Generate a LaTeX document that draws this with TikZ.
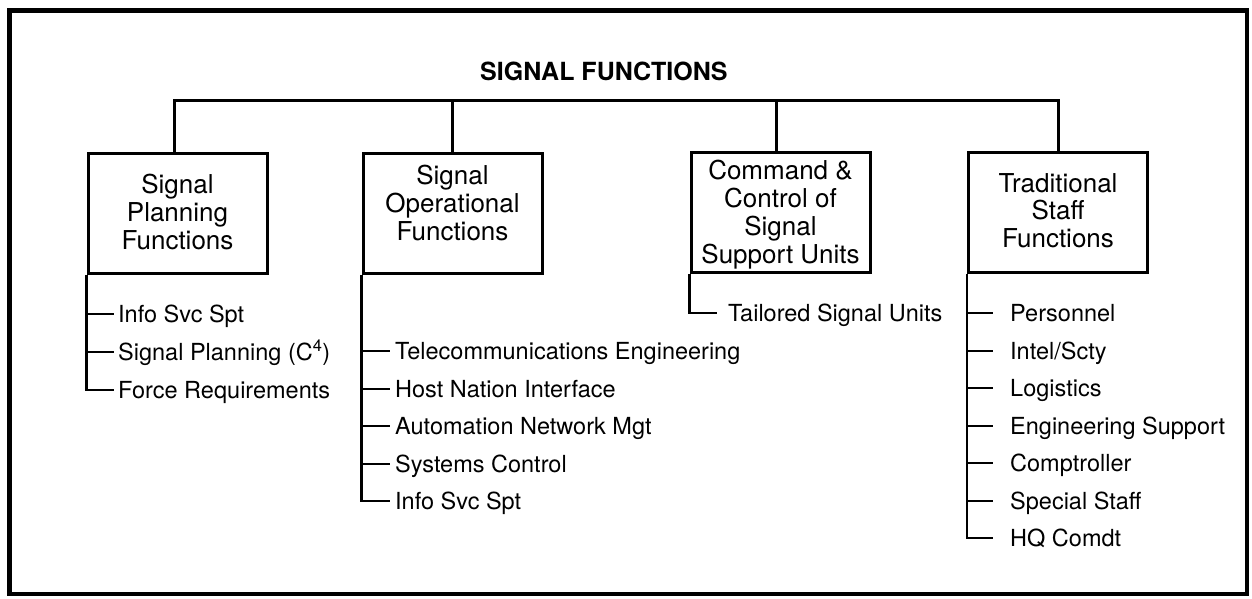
\documentclass[tikz,border=0pt]{standalone}
\usepackage{fontspec}
\setmainfont{TeX Gyre Heros}
\begin{document}
\begin{tikzpicture}[x=1pt,y=-1pt,
  box/.style={draw, line width=3pt, minimum width=179pt, minimum height=120pt, inner sep=0pt},
  btext/.style={font=\fontsize{26}{27.8}\selectfont, align=center, inner sep=0pt, anchor=north},
  item/.style={font=\fontsize{23.5}{28}\selectfont, inner sep=0pt, anchor=base west},
  conn/.style={line width=3pt},
  sub/.style={line width=2.5pt},
  tick/.style={line width=2pt}]
\useasboundingbox (0,0) rectangle (1252,598);
\coordinate (fa) at (9.5,10.5);
\coordinate (fb) at (1247,594);
\draw[line width=4.5pt] (fa) rectangle (fb);
\node[font=\fontsize{25}{30}\selectfont\bfseries, inner sep=0pt, anchor=base west] (title) at (480,80) {SIGNAL FUNCTIONS};
% boxes
\node[box] (b1) at (177.5,213) {};
\node[box] (b2) at (452.5,213) {};
\node[box] (b3) at (780.5,212.5) {};
\node[box] (b4) at (1058,212.5) {};
\node[btext] (t1) at (177.5,174) {Signal\\Planning\\Functions};
\node[btext] (t2) at (452.5,165) {Signal\\Operational\\Functions};
\node[btext] (t3) at (780.5,160) {Command \&\\Control of\\Signal\\Support Units};
\node[btext] (t4) at (1058,173) {Traditional\\Staff\\Functions};
% bus
\coordinate (bus) at (0,100);
\coordinate (s1) at ([xshift=-3.5pt]b1.north);
\coordinate (s3) at ([xshift=-4pt]b3.north);
\draw[conn] (s1) -- (s1 |- bus) -- (b4.north |- bus) -- (b4.north);
\draw[conn] (b2.north) -- (b2.north |- bus);
\draw[conn] (s3) -- (s3 |- bus);
% items box 1
\node[item] (i11) at (118,322.5) {Info Svc Spt};
\node[item] (i12) at (118,360.5) {Signal Planning (C\textsuperscript{4})};
\node[item] (i13) at (118,398.5) {Force Requirements};
% items box 2
\node[item] (i21) at (395,359.5) {Telecommunications Engineering};
\node[item] (i22) at (395,397) {Host Nation Interface};
\node[item] (i23) at (395,434.5) {Automation Network Mgt};
\node[item] (i24) at (395,472) {Systems Control};
\node[item] (i25) at (395,509.5) {Info Svc Spt};
% items box 3
\node[item] (i31) at (728,321.5) {Tailored Signal Units};
% items box 4
\node[item] (i41) at (1010,321.5) {Personnel};
\node[item] (i42) at (1010,359.5) {Intel/Scty};
\node[item] (i43) at (1010,396.5) {Logistics};
\node[item] (i44) at (1010,434.5) {Engineering Support};
\node[item] (i45) at (1010,471.5) {Comptroller};
\node[item] (i46) at (1010,509.5) {Special Staff};
\node[item] (i47) at (1010,546.5) {HQ Comdt};
% tick anchor coordinates
\foreach \n in {11,12,13,21,22,23,24,25,31,41,42,43,44,45,46,47}{
  \coordinate (k\n) at ([yshift=8.5pt]i\n.base west);
}
% sub-list lines
\draw[sub] (b1.south west) -- (b1.south west |- k13) -- ([xshift=-4pt]k13);
\draw[tick] (b1.south west |- k11) -- ([xshift=-4pt]k11);
\draw[tick] (b1.south west |- k12) -- ([xshift=-4pt]k12);
\draw[sub] (b2.south west) -- (b2.south west |- k25) -- ([xshift=-5pt]k25);
\foreach \n in {21,22,23,24}{\draw[tick] (b2.south west |- k\n) -- ([xshift=-5pt]k\n);}
\draw[sub] (b3.south west) -- (b3.south west |- k31) -- ([xshift=-11pt]k31);
\draw[sub] (b4.south west) -- (b4.south west |- k47) -- ([xshift=-17pt]k47);
\foreach \n in {41,42,43,44,45,46}{\draw[tick] (b4.south west |- k\n) -- ([xshift=-17pt]k\n);}
\end{tikzpicture}
\end{document}
